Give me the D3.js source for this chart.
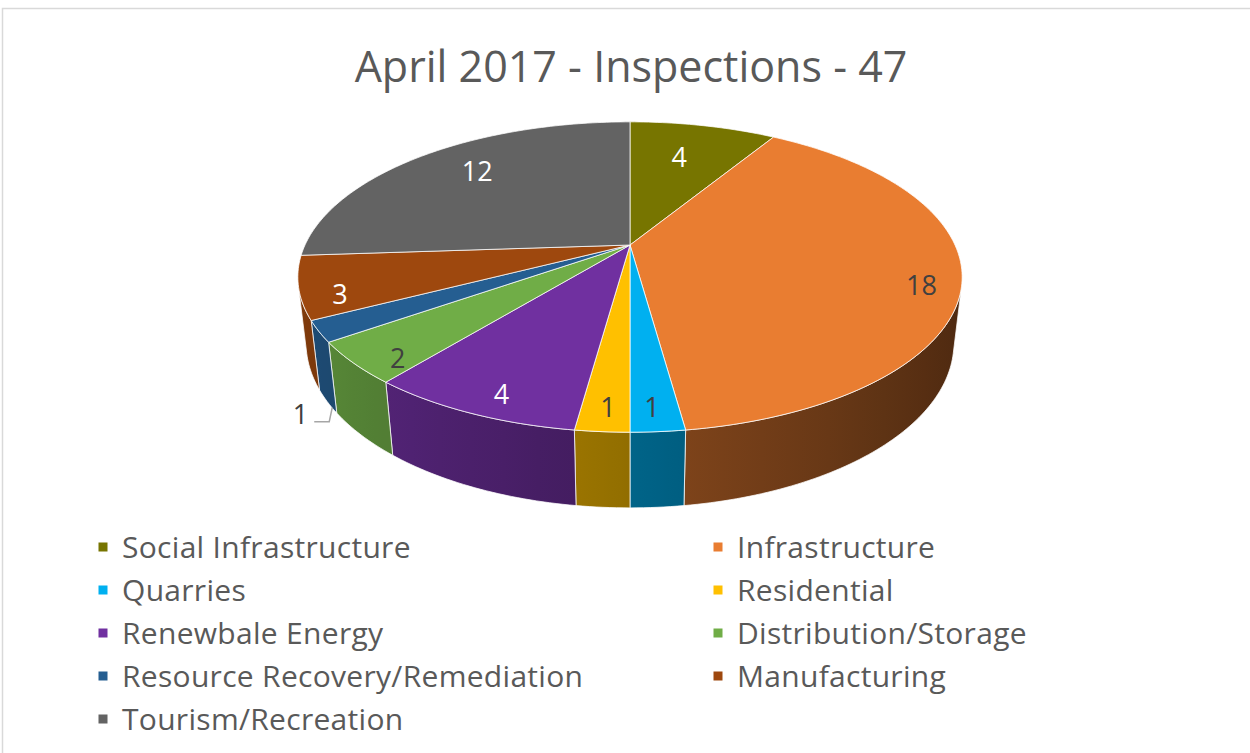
<!DOCTYPE html>
<html>
<head>
<meta charset="utf-8">
<script src="https://cdn.jsdelivr.net/npm/d3@7"></script>
<style>
  body { margin: 0; background: #fff; }
  svg { display: block; }
  text { font-family: "Open Sans", sans-serif; }
</style>
</head>
<body>
<div id="chart"></div>
<script>
// chart data
var title = "April 2017 - Inspections - 47";
var categories = ["Social Infrastructure", "Infrastructure", "Quarries", "Residential",
    "Renewbale Energy", "Distribution/Storage", "Resource Recovery/Remediation",
    "Manufacturing", "Tourism/Recreation"];
var values = [4, 18, 1, 1, 4, 2, 1, 3, 12];
var colors = ["#777500", "#E97D31", "#00B0F0", "#FFC000", "#7030A0",
    "#70AD47", "#255E91", "#9E480E", "#636363"];
var labelColors = ["#fff", "#404040", "#404040", "#404040", "#fff",
    "#404040", "#404040", "#fff", "#fff"];
var outsideLabels = ["Resource Recovery/Remediation"];

var width = 1250, height = 753;

// 3d pie layout: center of top face, radius in px, camera distance, tilt, thickness
var cx = 630, cy = 245, k = 325, dist = 4.31, depth = 0.23;
var tilt = 27.2 * Math.PI / 180;
var sinT = Math.sin(tilt), cosT = Math.cos(tilt);

function project(a, r, y){
    var X = r * Math.sin(a), Z = -r * Math.cos(a);
    var u = y * cosT - Z * sinT,
        w = y * sinT + Z * cosT;
    var s = dist / (dist - w);
    return [cx + X * s * k, cy - u * s * k];
}

// wall lighting, brighter on the left
function shade(c, a){
    var f = 0.57 - 0.25 * Math.sin(a);
    var col = d3.rgb(c);
    return d3.rgb(col.r * f, col.g * f, col.b * f).formatHex();
}

function arcPoints(a0, a1, r, y){
    var n = Math.max(2, Math.ceil((a1 - a0) / (Math.PI / 180)));
    var pts = [];
    for (var i = 0; i <= n; ++i){
        pts.push(project(a0 + (a1 - a0) * i / n, r, y));
    }
    return pts;
}

var svg = d3.select("#chart")
    .append("svg")
        .attr("width", width)
        .attr("height", height);

var defs = svg.append("defs");

// chart frame
svg.append("rect")
    .attr("x", 2.5)
    .attr("y", 8.5)
    .attr("width", width + 20)
    .attr("height", height + 20)
    .attr("fill", "none")
    .attr("stroke", "#D9D9D9")
    .attr("stroke-width", 1.5);

svg.append("text")
    .attr("x", 631)
    .attr("y", 82)
    .attr("text-anchor", "middle")
    .attr("font-size", "43px")
    .attr("fill", "#595959")
    .text(title);

var pie = d3.pie().sort(null).value(function(d){ return d.value; });
var data = categories.map(function(c, i){
    return { name: c, value: values[i], color: colors[i], labelColor: labelColors[i] };
});
var arcs = pie(data);

// visible range of the cylinder wall
var aVis = Math.acos(-1 / (dist * cosT));
var visLo = aVis, visHi = 2 * Math.PI - aVis;

var sideG = svg.append("g");
arcs.forEach(function(d, i){
    var s = Math.max(d.startAngle, visLo), e = Math.min(d.endAngle, visHi);
    if (e <= s) return;
    var top = arcPoints(s, e, 1, 0),
        bottom = arcPoints(s, e, 1, -depth).reverse();
    var x1 = top[0][0], x2 = top[top.length - 1][0];
    var grad = defs.append("linearGradient")
        .attr("id", "side-" + i)
        .attr("gradientUnits", "userSpaceOnUse")
        .attr("x1", x1).attr("y1", 0)
        .attr("x2", x2).attr("y2", 0);
    var last = 0;
    for (var j = 0; j <= 6; ++j){
        var a = s + (e - s) * j / 6;
        var off = Math.abs(x2 - x1) < 1 ? j / 6 : (project(a, 1, 0)[0] - x1) / (x2 - x1);
        off = Math.max(last, Math.min(1, off));
        last = off;
        grad.append("stop")
            .attr("offset", off)
            .attr("stop-color", shade(d.data.color, a));
    }
    sideG.append("path")
        .attr("d", d3.line()(top.concat(bottom)) + "Z")
        .attr("fill", "url(#side-" + i + ")")
        .attr("stroke", "rgba(255,255,255,0.75)")
        .attr("stroke-width", 1)
        .attr("stroke-linejoin", "round");
});

var topG = svg.append("g");
arcs.forEach(function(d){
    var pts = [project(0, 0, 0)].concat(arcPoints(d.startAngle, d.endAngle, 1, 0));
    topG.append("path")
        .attr("d", d3.line()(pts) + "Z")
        .attr("fill", d.data.color)
        .attr("stroke", "rgba(255,255,255,0.75)")
        .attr("stroke-width", 1)
        .attr("stroke-linejoin", "round");
});

// data labels
var labelG = svg.append("g");
arcs.forEach(function(d){
    var m = (d.startAngle + d.endAngle) / 2;
    if (outsideLabels.includes(d.data.name)){
        var p = project(m, 1, -depth);
        p = [p[0] + 5, p[1] + 6];
        labelG.append("path")
            .attr("d", d3.line()([p, [p[0] - 3, p[1] + 14], [p[0] - 18, p[1] + 14]]))
            .attr("fill", "none")
            .attr("stroke", "#A6A6A6")
            .attr("stroke-width", 1.5);
        labelG.append("text")
            .attr("x", p[0] - 24)
            .attr("y", p[1] + 16)
            .attr("text-anchor", "end")
            .attr("font-size", "27px")
            .attr("fill", "#404040")
            .text(d.data.value);
    } else {
        // labels drift toward the front and sit further out at the sides
        var sn = Math.sin(m), cs = Math.cos(m);
        var am = m - 5 * Math.PI / 180 * sn * (cs >= 0 ? 1 : -1);
        var r = 0.79 - 0.1 * cs + 0.08 * sn * sn;
        var q = project(am, r, 0);
        labelG.append("text")
            .attr("x", q[0])
            .attr("y", q[1] + 10)
            .attr("text-anchor", "middle")
            .attr("font-size", "27px")
            .attr("fill", d.data.labelColor)
            .text(d.data.value);
    }
});

// legend, two columns
var colX = [98.5, 713.5];
var rowY = d3.scaleLinear().domain([0, 1]).range([547, 590]);
var legend = svg.append("g").selectAll("g")
    .data(data)
    .enter().append("g")
        .attr("transform", function(d, i){
            return "translate(" + colX[i % 2] + "," + rowY(Math.floor(i / 2)) + ")";
        });

legend.append("rect")
    .attr("x", 0)
    .attr("y", -4.5)
    .attr("width", 9)
    .attr("height", 9)
    .attr("fill", function(d){ return d.color; });

legend.append("text")
    .attr("x", 23.5)
    .attr("y", 11)
    .attr("font-size", "30px")
    .attr("letter-spacing", "0.3px")
    .attr("fill", "#595959")
    .text(function(d){ return d.name; });
</script>
</body>
</html>
